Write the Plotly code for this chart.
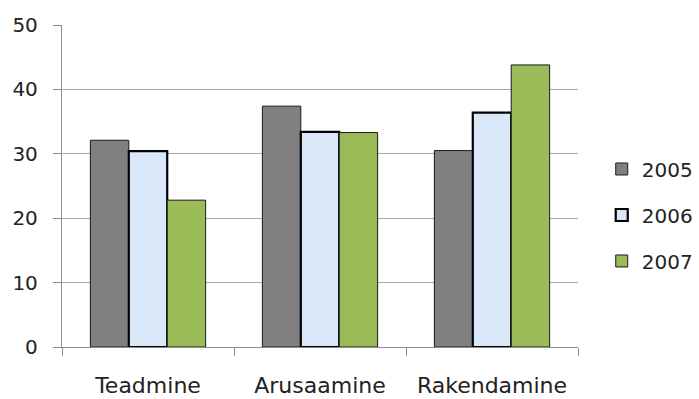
import plotly.graph_objects as go

categories = ["Teadmine", "Arusaamine", "Rakendamine"]
years = ["2005", "2006", "2007"]
values_2005 = [32.1, 37.4, 30.5]
values_2006 = [30.4, 33.4, 36.4]
values_2007 = [22.8, 33.3, 43.8]

series = [
    (years[0], values_2005, "#808080", "#1a1a1a", 1),
    (years[1], values_2006, "#d9e8f8", "#000000", 2.2),
    (years[2], values_2007, "#9bbb59", "#1a1a1a", 1),
]

fig = go.Figure()
for name, vals, fill, edge, width in series:
    fig.add_trace(go.Bar(
        x=categories, y=vals, name=name,
        legendgroup=name,
        marker=dict(color=fill, line=dict(color=edge, width=width)),
    ))

font_family = "DejaVu Sans, sans-serif"

fig.update_layout(
    width=699, height=399,
    margin=dict(l=62, r=121, t=25, b=52, autoexpand=False),
    paper_bgcolor="white", plot_bgcolor="white",
    barmode="group", bargap=0.33, bargroupgap=0,
    font=dict(family=font_family, size=21, color="#222222"),
    legend=dict(
        x=1.046, y=0.41, xanchor="left", yanchor="middle",
        font=dict(size=20, color="#222222"),
        traceorder="grouped", tracegroupgap=17,
        itemwidth=30,
    ),
    showlegend=True,
)
fig.update_xaxes(
    showline=True, linecolor="#8c8c8c", linewidth=1.3,
    ticks="outside", tickson="boundaries", ticklen=8, tickcolor="#8c8c8c",
    tickfont=dict(size=22), ticklabelstandoff=18, showgrid=False,
)
fig.update_yaxes(
    range=[0, 50], dtick=10,
    showline=True, linecolor="#8c8c8c", linewidth=1.3,
    ticks="outside", ticklen=8, tickcolor="#8c8c8c",
    showgrid=True, gridcolor="#a6a6a6", gridwidth=1.3,
    zeroline=False, tickfont=dict(size=20), ticklabelstandoff=11,
)

fig.write_html("out.html")
